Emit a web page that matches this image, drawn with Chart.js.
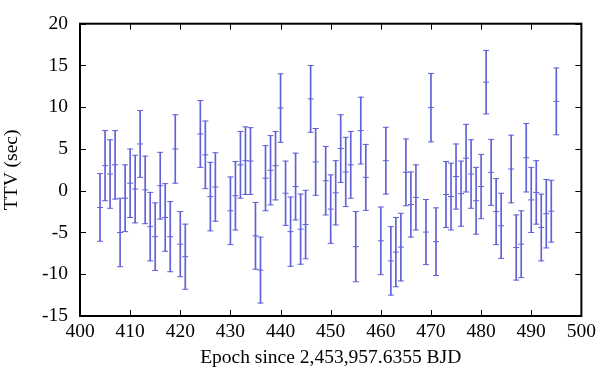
<!DOCTYPE html>
<html>
<head>
<meta charset="utf-8">
<script src="https://cdn.jsdelivr.net/npm/chart.js@4/dist/chart.umd.min.js"></script>
<style>
  body { margin: 0; background: #fff; }
</style>
</head>
<body>
<canvas id="plot" width="600" height="380"></canvas>
<script>
/* epochs that have a transit measurement */
const epochs = [
    404, 405, 406, 407, 408, 409, 410, 411, 412, 413, 414, 415, 416, 417, 418, 419, 420, 421,
    424, 425, 426, 427, 430, 431, 432, 433, 434, 435, 436, 437, 438, 439, 440, 441, 442, 443,
    444, 445, 446, 447, 449, 450, 451, 452, 453, 454, 455, 456, 457, 460, 461, 462, 463, 464,
    465, 466, 467, 469, 470, 471, 473, 474, 475, 476, 477, 478, 479, 480, 481, 482, 483, 484,
    486, 487, 488, 489, 490, 491, 492, 493, 494, 495
];
/* timing variation in seconds */
const ttv = [
    -2.0, 3.0, 2.0, 3.1, -5.0, -0.9, 0.9, 0.2, 5.6, 0.1, -4.3, -5.5, 0.6, -3.2, -5.5, 5.0, -6.4, -7.9,
    6.8, 4.3, -0.7, 0.45, -2.4, -0.6, 3.1, 3.6, 3.55, -5.4, -9.5, 1.5, 2.45, 3.0, 9.9, -0.3, -4.9, 0.5,
    -4.6, -4.05, 11.0, 3.45, 1.2, -2.2, -0.25, 5.05, 2.25, 3.1, -6.7, 7.2, 1.6, -6.0, 3.6, -8.4, -7.35, -6.75,
    2.2, -1.65, -0.8, -4.95, 9.95, -6.1, -0.45, -0.7, 1.7, -0.35, 3.9, 2.0, -1.2, 0.5, 13.0, 2.2, -2.5, -4.2,
    2.6, -6.8, -6.4, 3.95, -1.1, -0.2, -4.4, -2.75, -2.45, 10.7
];
/* one sigma uncertainty in seconds */
const ttvErr = [
    4.05, 4.2, 4.1, 4.1, 4.1, 4.0, 4.1, 4.05, 4.0, 4.05, 4.1, 4.05, 4.0, 4.05, 4.2, 4.1, 3.9, 3.9,
    4.0, 4.05, 4.1, 4.1, 4.05, 4.1, 4.0, 4.05, 4.0, 4.0, 3.95, 3.9, 4.15, 4.1, 4.1, 3.85, 4.15, 4.0,
    4.2, 4.1, 4.0, 4.0, 4.1, 4.1, 3.85, 4.05, 4.15, 4.0, 4.2, 4.0, 3.95, 4.05, 4.0, 4.1, 4.15, 4.05,
    4.0, 3.9, 3.9, 3.9, 4.1, 4.05, 3.95, 4.0, 3.9, 3.9, 4.05, 4.1, 4.0, 3.85, 3.8, 3.95, 3.95, 3.9,
    4.05, 3.9, 4.0, 4.1, 3.9, 3.8, 4.0, 4.1, 3.7, 4.0
];
const xRange = [400, 500];
const yRange = [-15, 20];
const xStep = 10;
const yStep = 5;

const barColor = 'rgb(96, 96, 216)';
const font = { family: 'Liberation Serif', size: 19.5 };

// gnuplot-like box with ticks pointing inward on all four sides
const frame = {
    id: 'frame',
    afterDatasetsDraw(chart) {
        const { ctx, chartArea: a, scales: { x, y } } = chart;
        ctx.save();
        ctx.strokeStyle = '#000';
        ctx.lineWidth = 1;
        ctx.beginPath();
        x.ticks.forEach(t => {
            const px = Math.round(x.getPixelForValue(t.value)) + 0.5;
            ctx.moveTo(px, a.bottom); ctx.lineTo(px, a.bottom - 6);
            ctx.moveTo(px, a.top); ctx.lineTo(px, a.top + 6);
        });
        y.ticks.forEach(t => {
            const py = Math.round(y.getPixelForValue(t.value)) + 0.5;
            ctx.moveTo(a.left, py); ctx.lineTo(a.left + 6, py);
            ctx.moveTo(a.right, py); ctx.lineTo(a.right - 6, py);
        });
        ctx.stroke();
        ctx.lineWidth = 2;
        ctx.strokeRect(a.left, a.top, a.right - a.left, a.bottom - a.top);
        ctx.restore();
    }
};

const lows = epochs.map((e, i) => ({ x: e, y: ttv[i] - ttvErr[i] }));
const highs = epochs.map((e, i) => ({ x: e, y: ttv[i] + ttvErr[i] }));
const mids = epochs.map((e, i) => ({ x: e, y: ttv[i] }));
const spans = epochs.map((e, i) => ({ x: e, y: [ttv[i] - ttvErr[i], ttv[i] + ttvErr[i]] }));

const tickStyle = { pointStyle: 'line', radius: 3, hoverRadius: 3, borderWidth: 1, borderColor: barColor, backgroundColor: barColor };

new Chart(document.getElementById('plot'), {
    type: 'bar',
    data: {
        datasets: [
            { type: 'bar', data: spans, backgroundColor: barColor, borderWidth: 0, barThickness: 1 },
            Object.assign({ type: 'scatter', data: lows }, tickStyle),
            Object.assign({ type: 'scatter', data: highs }, tickStyle),
            Object.assign({ type: 'scatter', data: mids }, tickStyle)
        ]
    },
    options: {
        responsive: false,
        devicePixelRatio: 1,
        animation: false,
        layout: { padding: { left: 0, right: 18, top: 11, bottom: 0 } },
        plugins: { legend: { display: false }, tooltip: { enabled: false } },
        scales: {
            x: {
                type: 'linear',
                min: xRange[0], max: xRange[1],
                offset: false,
                grid: { display: false, drawTicks: false },
                border: { display: false },
                ticks: { stepSize: xStep, color: '#000', font: font, padding: 4, maxRotation: 0 },
                title: { display: true, text: 'Epoch since 2,453,957.6355 BJD', color: '#000', font: font, padding: { top: 0, bottom: 10 } },
                afterFit: s => { s.height = 64; }
            },
            y: {
                type: 'linear',
                min: yRange[0], max: yRange[1],
                grid: { display: false, drawTicks: false },
                border: { display: false },
                ticks: { stepSize: yStep, color: '#000', font: font, padding: 12 },
                title: { display: true, text: 'TTV (sec)', color: '#000', font: font, padding: { top: 0, bottom: 0 } },
                afterFit: s => { s.width = 80; }
            }
        }
    },
    plugins: [frame]
});
</script>
</body>
</html>
